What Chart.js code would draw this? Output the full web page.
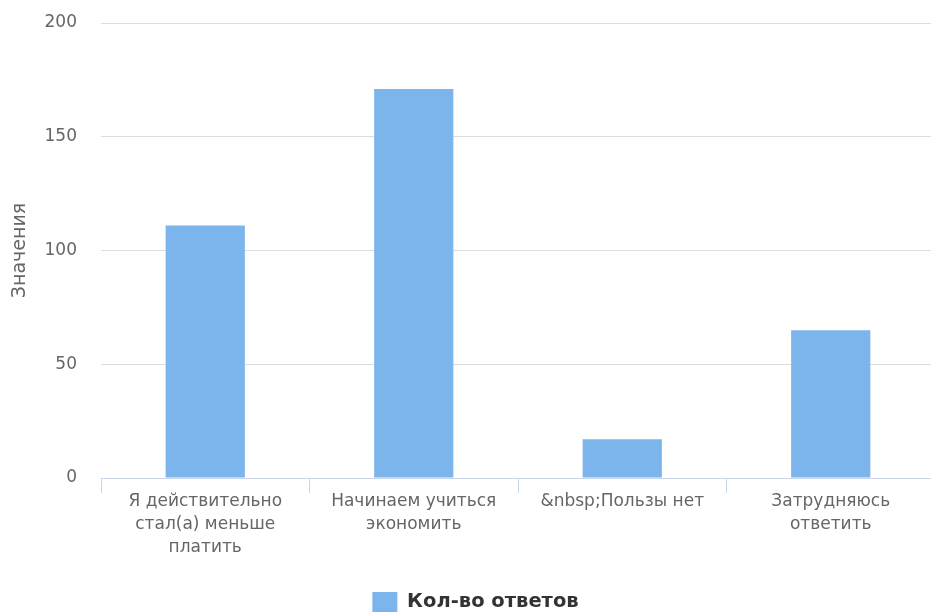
<!DOCTYPE html>
<html>
<head>
<meta charset="utf-8">
<script src="https://cdn.jsdelivr.net/npm/chart.js@4/dist/chart.umd.min.js"></script>
<style>
html,body{margin:0;padding:0;overflow:hidden;background:#fff;}
#wrap{width:936px;height:612px;}
</style>
</head>
<body>
<div id="wrap"><canvas id="c" width="936" height="612"></canvas></div>
<script>
const categories = [
  ['Я действительно', 'стал(а) меньше', 'платить'],
  ['Начинаем учиться', 'экономить'],
  ['&nbsp;Пользы нет'],
  ['Затрудняюсь', 'ответить']
];
const seriesName = 'Кол-во ответов';
const values = [111, 171, 17, 65];
const yTicks = [0, 50, 100, 150, 200];
const yTitle = 'Значения';

const FONT = "'DejaVu Sans', sans-serif";

const legendShift = {
  id: 'legendShift',
  afterLayout(chart) {
    const lg = chart.legend;
    if (lg) { lg.left += 8; lg.right += 8; }
  }
};

new Chart(document.getElementById('c'), {
  type: 'bar',
  plugins: [legendShift],
  data: {
    labels: categories,
    datasets: [{
      label: seriesName,
      data: values,
      backgroundColor: '#7cb5ec',
      borderWidth: 0,
      categoryPercentage: 1,
      barPercentage: 0.38
    }]
  },
  options: {
    responsive: false,
    animation: false,
    layout: { padding: { top: 23, right: 1, left: 0, bottom: -10 } },
    plugins: {
      tooltip: { enabled: false },
      legend: {
        position: 'bottom',
        labels: {
          boxWidth: 25,
          boxHeight: 20,
          padding: 1,
          color: '#333333',
          font: { family: FONT, size: 19.5, weight: 'bold' }
        }
      }
    },
    scales: {
      x: {
        grid: { drawOnChartArea: false, drawTicks: true, tickLength: 15, color: '#ccd6eb', offset: true },
        border: { color: '#ccd6eb', width: 1 },
        ticks: {
          maxRotation: 0, autoSkip: false, padding: -3,
          color: '#666666',
          font: { family: FONT, size: 17, lineHeight: 1.35 }
        },
        afterFit: s => { s.height = 113; }
      },
      y: {
        min: 0, max: 200,
        afterBuildTicks: s => { s.ticks = yTicks.map(v => ({ value: v })); },
        grid: { color: '#dddddd', drawTicks: true, tickLength: 24, tickColor: 'rgba(0,0,0,0)' },
        border: { display: false },
        ticks: {
          padding: 0,
          color: '#666666',
          font: { family: FONT, size: 17 }
        },
        title: {
          display: true, text: yTitle, color: '#666666',
          font: { family: FONT, size: 19 },
          padding: { top: 9, bottom: 0 }
        },
        afterFit: s => { s.width = 101; }
      }
    }
  }
});
</script>
</body>
</html>
